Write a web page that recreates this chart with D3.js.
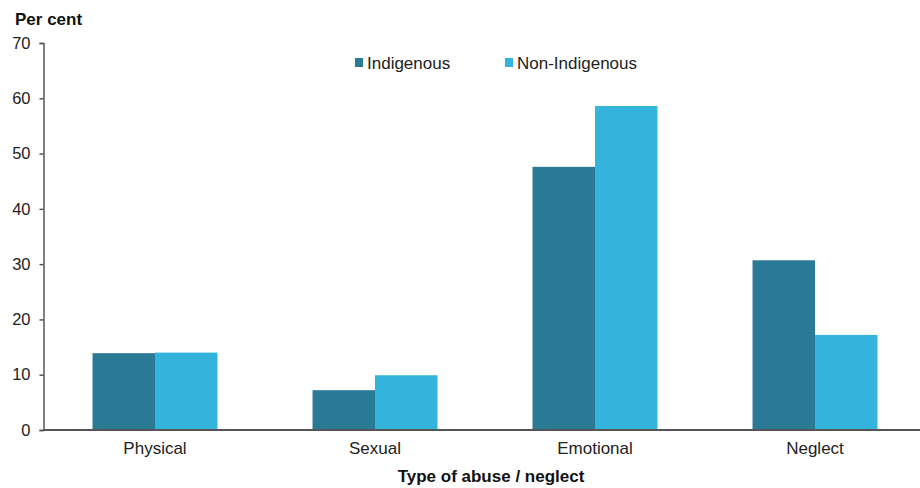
<!DOCTYPE html>
<html><head><meta charset="utf-8">
<script src="https://cdn.jsdelivr.net/npm/d3@7"></script>
<style>body{margin:0;background:#fff;} text{font-family:Arial,"Liberation Sans",sans-serif;}</style>
</head><body><svg id="c" width="920" height="488"></svg>
<script>
const categories = ["Physical","Sexual","Emotional","Neglect"];
const seriesNames = ["Indigenous","Non-Indigenous"];
const indigenous = [13.9, 7.2, 47.6, 30.7];
const nonIndigenous = [14.0, 9.9, 58.6, 17.2];
const yTicks = [0,10,20,30,40,50,60,70];
const colors = ["#2b7a95","#34b3dc"];

const svg = d3.select("#c");
const x = d3.scaleBand().domain(categories).range([45,925]).paddingInner(0.432).paddingOuter(0.216);
const xs = d3.scaleBand().domain(seriesNames).range([0,x.bandwidth()]);
const y = d3.scaleLinear().domain([0,70]).range([430,43]);
const data = categories.map((c,i)=>({cat:c, vals:[indigenous[i], nonIndigenous[i]]}));

const g = svg.append("g");
g.selectAll("g.cat").data(data).join("g").attr("transform",d=>`translate(${x(d.cat)},0)`)
 .selectAll("rect").data(d=>d.vals.map((v,j)=>({s:seriesNames[j],v,j}))).join("rect")
 .attr("x",d=>xs(d.s)).attr("width",xs.bandwidth()).attr("y",d=>y(d.v)).attr("height",d=>y(0)-y(d.v))
 .attr("fill",d=>colors[d.j]);

const ff = "Arial,'Liberation Sans',sans-serif";
// y axis
const ya = svg.append("g").attr("transform","translate(43.5,0)")
 .call(d3.axisLeft(y).tickValues(yTicks).tickSize(4).tickPadding(9));
ya.select(".domain").attr("stroke","#555").attr("stroke-width",1.5);
ya.selectAll(".tick line").attr("stroke","#555").attr("stroke-width",1.5);
ya.selectAll(".tick text").attr("font-size",16.5).attr("fill","#222").style("font-family",ff);

// x axis
const xa = svg.append("g").attr("transform","translate(0,430)")
 .call(d3.axisBottom(x).tickSize(0).tickPadding(12));
xa.select(".domain").attr("stroke","#555").attr("stroke-width",2).attr("d","M43,0H920");
xa.selectAll(".tick text").attr("font-size",17).attr("fill","#222").style("font-family",ff);

svg.append("text").attr("x",15).attr("y",25).attr("font-size",17).attr("font-weight","bold").attr("fill","#111").text("Per cent");
svg.append("text").attr("x",491).attr("y",482).attr("text-anchor","middle").attr("font-size",17).attr("font-weight","bold").attr("fill","#111").text("Type of abuse / neglect");

// legend
const legX = [355, 505];
seriesNames.forEach((s,i)=>{
  svg.append("rect").attr("x",legX[i]).attr("y",58).attr("width",8).attr("height",9).attr("fill",colors[i]);
  svg.append("text").attr("x",legX[i]+12).attr("y",68.5).attr("font-size",17).attr("fill","#222").text(s);
});
</script></body></html>
